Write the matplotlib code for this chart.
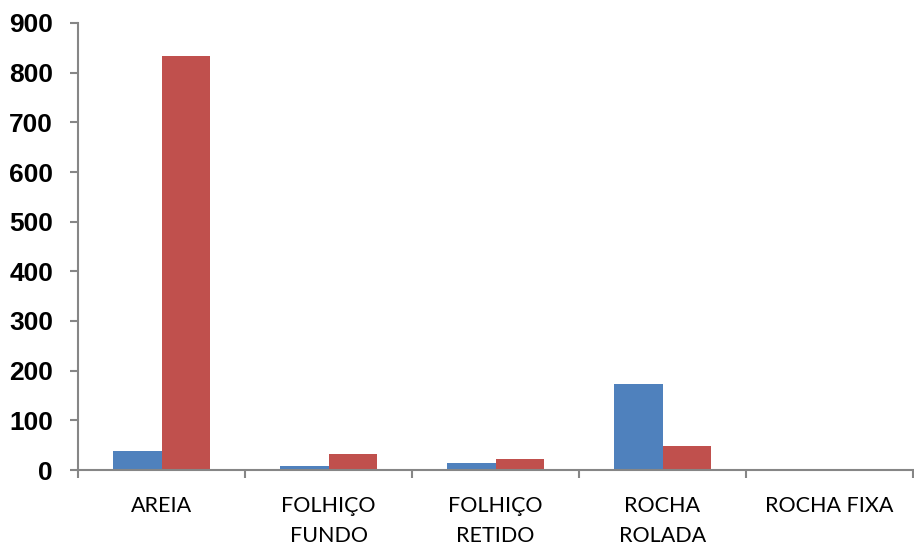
import matplotlib.pyplot as plt
import numpy as np

# categories and the two series
categorias = ['AREIA', 'FOLHIÇO\nFUNDO', 'FOLHIÇO\nRETIDO', 'ROCHA\nROLADA', 'ROCHA FIXA']
serie_azul = [39, 8, 15, 173, 0]
serie_vermelha = [833, 32, 22, 48, 0]

fig = plt.figure(figsize=(9.14, 5.49), dpi=100)
ax = fig.add_axes([78 / 914, 79 / 549, 835 / 914, 447 / 549])

x = np.arange(len(categorias))
w = 0.288
ax.bar(x - w / 2, serie_azul, w, color='#4F81BD')
ax.bar(x + w / 2, serie_vermelha, w, color='#C0504D')

ax.set_xlim(-0.5, len(categorias) - 0.5)
ax.set_ylim(0, 900)
ax.set_yticks(range(0, 901, 100))

# category labels centred, tick marks on the boundaries
ax.set_xticks(x)
ax.set_xticklabels(categorias, fontsize=15.5, family='Lato', linespacing=1.6)
ax.set_xticks(np.arange(-0.5, len(categorias)), minor=True)
ax.tick_params(axis='x', which='major', length=0, pad=19)
ax.tick_params(axis='x', which='minor', length=6, width=1.5, color='#868686', direction='out')
ax.tick_params(axis='y', length=6, width=1.5, color='#868686', pad=12)
for lbl in ax.get_yticklabels():
    lbl.set_fontsize(19)
    lbl.set_fontweight('bold')
    lbl.set_family('Liberation Sans')

for s in ['top', 'right']:
    ax.spines[s].set_visible(False)
for s in ['left', 'bottom']:
    ax.spines[s].set_color('#868686')
    ax.spines[s].set_linewidth(1.5)

fig.savefig('out.png', dpi=100)
